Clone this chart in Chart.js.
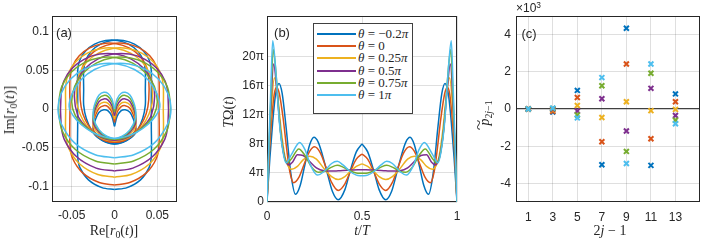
<!DOCTYPE html>
<html>
<head>
<meta charset="utf-8">
<script src="https://cdn.jsdelivr.net/npm/chart.js@4.4.0/dist/chart.umd.min.js"></script>
<style>
  body { margin: 0; background: #fff; }
  #fig { position: relative; width: 706px; height: 240px; overflow: hidden;
         font-family: "Liberation Sans", Arial, sans-serif; color: #262626; }
  #fig canvas { position: absolute; left: 0; top: 0; }
  .lbl { position: absolute; white-space: nowrap; transform: translate(-50%, -50%); }
  .rot { transform: translate(-50%, -50%) rotate(-90deg); }
  .tex { font-family: "Liberation Serif", "DejaVu Serif", serif; font-size: 14px; }
  .tag { font-size: 13px; }
  sub, sup { font-size: 70%; line-height: 0; }
  sub { vertical-align: -0.3em; }
  sup { vertical-align: 0.45em; }
  .wtilde { transform: translate(-50%, -50%) rotate(-90deg) scaleX(1.4); }
  #legend { position: absolute; left: 313px; top: 23px; width: 98px; height: 89px;
            border: 1px solid #404040; background: #fff; }
  #legend .row { position: absolute; left: 0; height: 12px; width: 98px; }
  #legend .swatch { position: absolute; left: 3px; top: 5px; width: 39px; height: 2px; }
  #legend .txt { position: absolute; left: 44px; top: -2px; white-space: nowrap;
                 font-family: "Liberation Serif", "DejaVu Serif", serif; font-size: 13px; }
</style>
</head>
<body>
<div id="fig">
  <canvas id="panelA" width="706" height="240"></canvas>
  <canvas id="panelB" width="706" height="240"></canvas>
  <canvas id="panelC" width="706" height="240"></canvas>

  <div class="lbl tag" style="left:64px;top:32px">(a)</div>
  <div class="lbl tag" style="left:282px;top:32px">(b)</div>
  <div class="lbl tag" style="left:529px;top:33px">(c)</div>

  <div class="lbl tex" style="left:114px;top:231px">Re[<i>r</i><sub>0</sub>(<i>t</i>)]</div>
  <div class="lbl tex rot" style="left:10px;top:110px">Im[<i>r</i><sub>0</sub>(<i>t</i>)]</div>
  <div class="lbl tex" style="left:362px;top:231px"><i>t</i>/<i>T</i></div>
  <div class="lbl tex rot" style="left:229px;top:112px"><i>T</i>Ω(<i>t</i>)</div>
  <div class="lbl tex" style="left:610px;top:231px">2<i>j</i> − 1</div>
  <div class="lbl tex rot" style="left:485px;top:113px"><i>p</i><sub>2<i>j</i>−1</sub></div>
  <div class="lbl tex wtilde" style="left:480px;top:125px">~</div>
  <div style="position:absolute;left:516px;top:1px;font-size:12px">×10<sup>3</sup></div>

  <div id="legend"></div>
</div>

<script>
// ── Series info ──────────────────────────────────
const colours = ['#0072BD', '#D95319', '#EDB120', '#7E2F8E', '#77AC30', '#4DBEEE'];
const thetas  = ['−0.2', '0', '0.25', '0.5', '0.75', '1'];

// ── Panel (a): r0(t), first half of the loop (t = 0 … T/2) ──
// the second half is the mirror image, drawn through a reversed x axis
const reBlue   = [0, -0.003, -0.0075, -0.0125, -0.018, -0.022, -0.0245, -0.0245, -0.018, -0.009, 0, 0.010, 0.019, 0.027, 0.033, 0.036, 0.036, 0.036, 0.0336, 0.0268, 0.0163, 0.0034, -0.0104, -0.0233, -0.0338, -0.0406, -0.043, -0.043, -0.043, -0.043, -0.0404, -0.0304, -0.0147, 0];
const imBlue   = [-0.0225, -0.0096, -0.0025, -0.001, -0.0043, -0.0128, -0.0225, -0.031, -0.038, -0.043, -0.045, -0.043, -0.037, -0.027, -0.012, 0.005, 0.025, 0.0495, 0.063, 0.0749, 0.0837, 0.0884, 0.0884, 0.0837, 0.0749, 0.063, 0.0495, 0.02, -0.02, -0.061, -0.0757, -0.0914, -0.1014, -0.104];
const reOrange = [0, -0.003, -0.0075, -0.0125, -0.018, -0.022, -0.0245, -0.0245, -0.018, -0.009, 0, 0.011, 0.021, 0.030, 0.037, 0.040, 0.040, 0.0372, 0.0292, 0.017, 0.002, -0.014, -0.029, -0.0412, -0.0492, -0.052, -0.052, -0.052, -0.0489, -0.0368, -0.0178, 0];
const imOrange = [-0.0172, -0.0043, 0.0028, 0.0043, 0.0011, -0.0075, -0.0172, -0.027, -0.035, -0.041, -0.043, -0.041, -0.034, -0.022, -0.006, 0.012, 0.039, 0.0547, 0.0686, 0.0788, 0.0843, 0.0843, 0.0788, 0.0686, 0.0547, 0.039, 0.0, -0.046, -0.0638, -0.0828, -0.0949, -0.098];
const reYellow = [0, -0.003, -0.0075, -0.0125, -0.018, -0.022, -0.0245, -0.0245, -0.018, -0.009, 0, 0.012, 0.023, 0.033, 0.040, 0.044, 0.044, 0.041, 0.0322, 0.0188, 0.0023, -0.0153, -0.0318, -0.0452, -0.054, -0.057, -0.057, -0.057, -0.0536, -0.0403, -0.0195, 0];
const imYellow = [-0.0128, 0, 0.0072, 0.0087, 0.0055, -0.0031, -0.0128, -0.023, -0.032, -0.038, -0.041, -0.039, -0.032, -0.021, -0.007, 0.008, 0.0285, 0.0458, 0.061, 0.0722, 0.0782, 0.0782, 0.0722, 0.061, 0.0458, 0.0285, 0.0, -0.031, -0.0505, -0.0713, -0.0846, -0.088];
const rePurple = [0, -0.003, -0.0075, -0.0125, -0.018, -0.022, -0.0245, -0.0245, -0.018, -0.009, 0, 0.012, 0.024, 0.035, 0.043, 0.047, 0.0437, 0.0342, 0.0196, 0.0018, -0.0173, -0.0351, -0.0497, -0.0592, -0.0625, -0.0625, -0.0588, -0.0442, -0.0214, 0];
const imPurple = [-0.0085, 0.0044, 0.0115, 0.013, 0.0098, 0.0012, -0.0085, -0.019, -0.030, -0.037, -0.040, -0.038, -0.031, -0.021, -0.008, 0.017, 0.0357, 0.0522, 0.0644, 0.0709, 0.0709, 0.0644, 0.0522, 0.0357, 0.017, -0.0175, -0.0389, -0.0617, -0.0763, -0.080];
const reGreen  = [0, -0.003, -0.0075, -0.0125, -0.018, -0.022, -0.0245, -0.0245, -0.018, -0.009, 0, 0.012, 0.025, 0.037, 0.046, 0.05, 0.0465, 0.0365, 0.0213, 0.0025, -0.0175, -0.0363, -0.0515, -0.0615, -0.065, -0.065, -0.0611, -0.046, -0.0222, 0];
const imGreen  = [-0.004, 0.009, 0.016, 0.0175, 0.014, 0.0057, -0.004, -0.015, -0.028, -0.036, -0.039, -0.037, -0.030, -0.020, -0.008, 0.0095, 0.0292, 0.0465, 0.0593, 0.0661, 0.0661, 0.0593, 0.0465, 0.0292, 0.0095, -0.006, -0.0282, -0.052, -0.0671, -0.071];
const reCyan   = [0, -0.003, -0.0075, -0.0125, -0.018, -0.022, -0.0245, -0.0245, -0.018, -0.009, 0, 0.012, 0.026, 0.039, 0.048, 0.053, 0.0494, 0.0391, 0.0233, 0.0039, -0.0169, -0.0363, -0.0521, -0.0624, -0.066, -0.062, -0.0467, -0.0226, 0];
const imCyan   = [0, 0.013, 0.020, 0.0215, 0.018, 0.0097, 0, -0.012, -0.027, -0.035, -0.038, -0.036, -0.030, -0.020, -0.009, 0.003, 0.0198, 0.0378, 0.051, 0.0581, 0.0581, 0.051, 0.0378, 0.0198, 0.0, -0.0196, -0.0437, -0.059, -0.063];

// ── Panel (b): TΩ(t) in units of π, t/T = 0 … 0.5 (curve is symmetric) ──
const tBlue   = [0, 0.015, 0.03, 0.045, 0.063, 0.08, 0.1, 0.125, 0.15, 0.175, 0.2, 0.225, 0.247, 0.27, 0.3, 0.32, 0.345, 0.375, 0.41, 0.437, 0.47, 0.5];
const wBlue   = [0, 6, 11, 14.8, 16.3, 14.9, 10.4, 4.0, 1.05, 2.3, 5.2, 7.9, 8.9, 8.2, 5.7, 3.7, 1.4, 0.3, 1.7, 4.2, 6.9, 8.0];
const tOrange = [0, 0.012, 0.025, 0.038, 0.05, 0.065, 0.085, 0.105, 0.12, 0.14, 0.17, 0.2, 0.225, 0.25, 0.28, 0.31, 0.34, 0.375, 0.41, 0.437, 0.47, 0.5];
const wOrange = [0, 6.5, 11.5, 14.8, 15.8, 14.9, 11.5, 7.0, 4.2, 2.66, 3.5, 5.5, 7.0, 7.6, 6.8, 4.8, 2.7, 1.6, 2.5, 4.1, 5.9, 6.6];
const tYellow = [0, 0.01, 0.022, 0.039, 0.055, 0.075, 0.095, 0.11, 0.13, 0.16, 0.19, 0.225, 0.26, 0.3, 0.34, 0.375, 0.41, 0.437, 0.47, 0.5];
const wYellow = [0, 6.5, 12.5, 17.1, 14.8, 9.8, 6.2, 5.0, 4.5, 4.9, 5.8, 6.3, 5.9, 4.6, 3.5, 3.1, 3.5, 4.2, 4.9, 5.25];
const tPurple = [0, 0.01, 0.02, 0.035, 0.05, 0.07, 0.09, 0.115, 0.135, 0.16, 0.19, 0.22, 0.26, 0.3, 0.34, 0.375, 0.437, 0.5];
const wPurple = [0, 7, 13, 19.0, 16, 10, 6.4, 5.1, 5.5, 6.5, 6.4, 5.7, 4.7, 4.3, 4.25, 4.3, 4.4, 4.45];
const tGreen  = [0, 0.01, 0.02, 0.033, 0.048, 0.068, 0.088, 0.105, 0.13, 0.167, 0.2, 0.235, 0.27, 0.3, 0.34, 0.37, 0.4, 0.437, 0.47, 0.5];
const wGreen  = [0, 7.5, 14, 21.0, 17.5, 10.5, 6.6, 5.4, 6.0, 7.3, 6.4, 4.8, 4.1, 4.2, 4.8, 5.05, 4.8, 4.3, 4.0, 3.95];
const tCyan   = [0, 0.01, 0.02, 0.03, 0.045, 0.065, 0.085, 0.1, 0.13, 0.172, 0.2, 0.23, 0.265, 0.3, 0.34, 0.37, 0.4, 0.437, 0.47, 0.5];
const wCyan   = [0, 8, 15.5, 22.2, 18.5, 11, 6.8, 5.4, 6.6, 8.2, 7.2, 5.0, 3.7, 4.2, 5.3, 5.6, 5.1, 4.2, 3.7, 3.6];

// ── Panel (c): p̃_{2j-1} (×10³) ──
const orders  = [1, 3, 5, 7, 9, 11, 13];
const pBlue   = [0, -0.16, 1.0, -3.0, 4.34, -3.03, 0.81];
const pOrange = [0, -0.12, 0.62, -1.76, 2.42, -1.6, 0.39];
const pYellow = [0, -0.04, 0.19, -0.46, 0.39, -0.09, -0.02];
const pPurple = [0, 0, -0.11, 0.55, -1.18, 1.11, -0.35];
const pGreen  = [0, 0.03, -0.32, 1.25, -2.28, 1.92, -0.6];
const pCyan   = [0, 0.05, -0.48, 1.69, -2.93, 2.42, -0.79];

// ── Axis ticks ──
const reTicks = [-0.05, 0, 0.05];
const imTicks = [-0.1, -0.05, 0, 0.05, 0.1];
const tTicks  = [0, 0.5, 1];
const wTicks  = [0, 4, 8, 12, 16, 20];
const jTicks  = [1, 3, 5, 7, 9, 11, 13];
const pTicks  = [-4, -2, 0, 2, 4];

// ── Helpers ──────────────────────────────────────
const ink     = '#262626';
const gridCol = 'rgba(38,38,38,0.15)';
const tickFont = { family: '"Liberation Sans", Arial, sans-serif', size: 12 };

function pairs(xs, ys) {
  return xs.map((x, i) => ({ x, y: ys[i] }));
}

function plain(v) { return v === 0 ? '0' : String(v); }

function axis(min, max, ticks, fmt, pad, isY, extraGrid) {
  return {
    type: 'linear', min, max,
    afterBuildTicks: s => { s.ticks = ticks.map(v => ({ value: v })); },
    afterFit: s => { if (isY) s.width = 40; else s.height = 30; },
    grid: Object.assign({ color: gridCol, drawTicks: false }, extraGrid || {}),
    border: { display: false },
    ticks: { color: ink, font: tickFont, padding: pad, maxRotation: 0, autoSkip: false, callback: fmt }
  };
}

function mirror(min, max) {
  return { type: 'linear', min, max, reverse: true, display: false };
}

function layoutFor(box) {
  return { padding: { left: box.l - 40, right: 706 - box.r, top: box.t, bottom: 240 - box.b - 30 } };
}

// box round the axes, MATLAB style
const boxLine = {
  id: 'boxLine',
  beforeDatasetsDraw(chart) {
    const a = chart.chartArea, c = chart.ctx;
    c.save();
    c.strokeStyle = ink;
    c.lineWidth = 1;
    c.strokeRect(Math.round(a.left) + 0.5, Math.round(a.top) + 0.5,
                 Math.round(a.right - a.left) - 1, Math.round(a.bottom - a.top) - 1);
    c.restore();
  }
};

const common = {
  responsive: false,
  maintainAspectRatio: false,
  animation: false,
  events: [],
  plugins: { legend: { display: false }, tooltip: { enabled: false } }
};

// ── Panel (a) ────────────────────────────────────
const reSeries = [reBlue, reOrange, reYellow, rePurple, reGreen, reCyan];
const imSeries = [imBlue, imOrange, imYellow, imPurple, imGreen, imCyan];
const boxA = { l: 52, t: 16, r: 177, b: 202 };

const dsA = [];
reSeries.forEach((xs, i) => {
  ['x', 'xm'].forEach(ax => {
    dsA.push({
      data: pairs(xs, imSeries[i]), xAxisID: ax,
      showLine: true, borderColor: colours[i], borderWidth: 1.5,
      pointRadius: 0, tension: 0.3, order: 5 - i
    });
  });
});

new Chart(document.getElementById('panelA'), {
  type: 'scatter',
  data: { datasets: dsA },
  options: Object.assign({}, common, {
    layout: layoutFor(boxA),
    scales: {
      x:  axis(-0.073, 0.073, reTicks, plain, 6, false),
      xm: mirror(-0.073, 0.073),
      y:  axis(-0.12, 0.12, imTicks, v => plain(+v.toFixed(2)), 3, true)
    }
  }),
  plugins: [boxLine]
});

// ── Panel (b) ────────────────────────────────────
const tSeries = [tBlue, tOrange, tYellow, tPurple, tGreen, tCyan];
const wSeries = [wBlue, wOrange, wYellow, wPurple, wGreen, wCyan];
const boxB = { l: 267, t: 16, r: 457, b: 202 };

const dsB = [];
tSeries.forEach((ts, i) => {
  ['x', 'xm'].forEach(ax => {
    dsB.push({
      data: pairs(ts, wSeries[i]), xAxisID: ax,
      showLine: true, borderColor: colours[i], borderWidth: 1.5,
      pointRadius: 0, cubicInterpolationMode: 'monotone', order: 5 - i
    });
  });
});

new Chart(document.getElementById('panelB'), {
  type: 'scatter',
  data: { datasets: dsB },
  options: Object.assign({}, common, {
    layout: layoutFor(boxB),
    scales: {
      x:  axis(0, 1, tTicks, plain, 7, false),
      xm: mirror(0, 1),
      y:  axis(0, 25.6, wTicks, v => (v === 0 ? '0' : v + 'π'), 3, true)
    }
  }),
  plugins: [boxLine]
});

// legend of panel (b)
const legend = document.getElementById('legend');
thetas.forEach((th, i) => {
  const row = document.createElement('div');
  row.className = 'row';
  row.style.top = (4 + i * 12.2) + 'px';
  const txt = th === '0' ? '0' : th + '<i>π</i>';
  row.innerHTML = `<div class="swatch" style="background:${colours[i]}"></div>` +
                  `<div class="txt"><i>θ</i> = ${txt}</div>`;
  legend.appendChild(row);
});

// ── Panel (c) ────────────────────────────────────
const pSeries = [pBlue, pOrange, pYellow, pPurple, pGreen, pCyan];
const boxC = { l: 516, t: 16, r: 705, b: 202 };

new Chart(document.getElementById('panelC'), {
  type: 'scatter',
  data: {
    datasets: pSeries.map((ps, i) => ({
      data: pairs(orders, ps),
      pointStyle: 'crossRot', pointRadius: 3.5, borderWidth: 2,
      borderColor: colours[i], backgroundColor: colours[i], order: 5 - i
    }))
  },
  options: Object.assign({}, common, {
    layout: layoutFor(boxC),
    scales: {
      x: axis(0, 15, jTicks, plain, 8, false),
      y: axis(-5, 5, pTicks, plain, 5, true, {
        color: c => (c.tick && c.tick.value === 0 ? '#404040' : gridCol),
        lineWidth: c => (c.tick && c.tick.value === 0 ? 1.3 : 1)
      })
    }
  }),
  plugins: [boxLine]
});
</script>
</body>
</html>
